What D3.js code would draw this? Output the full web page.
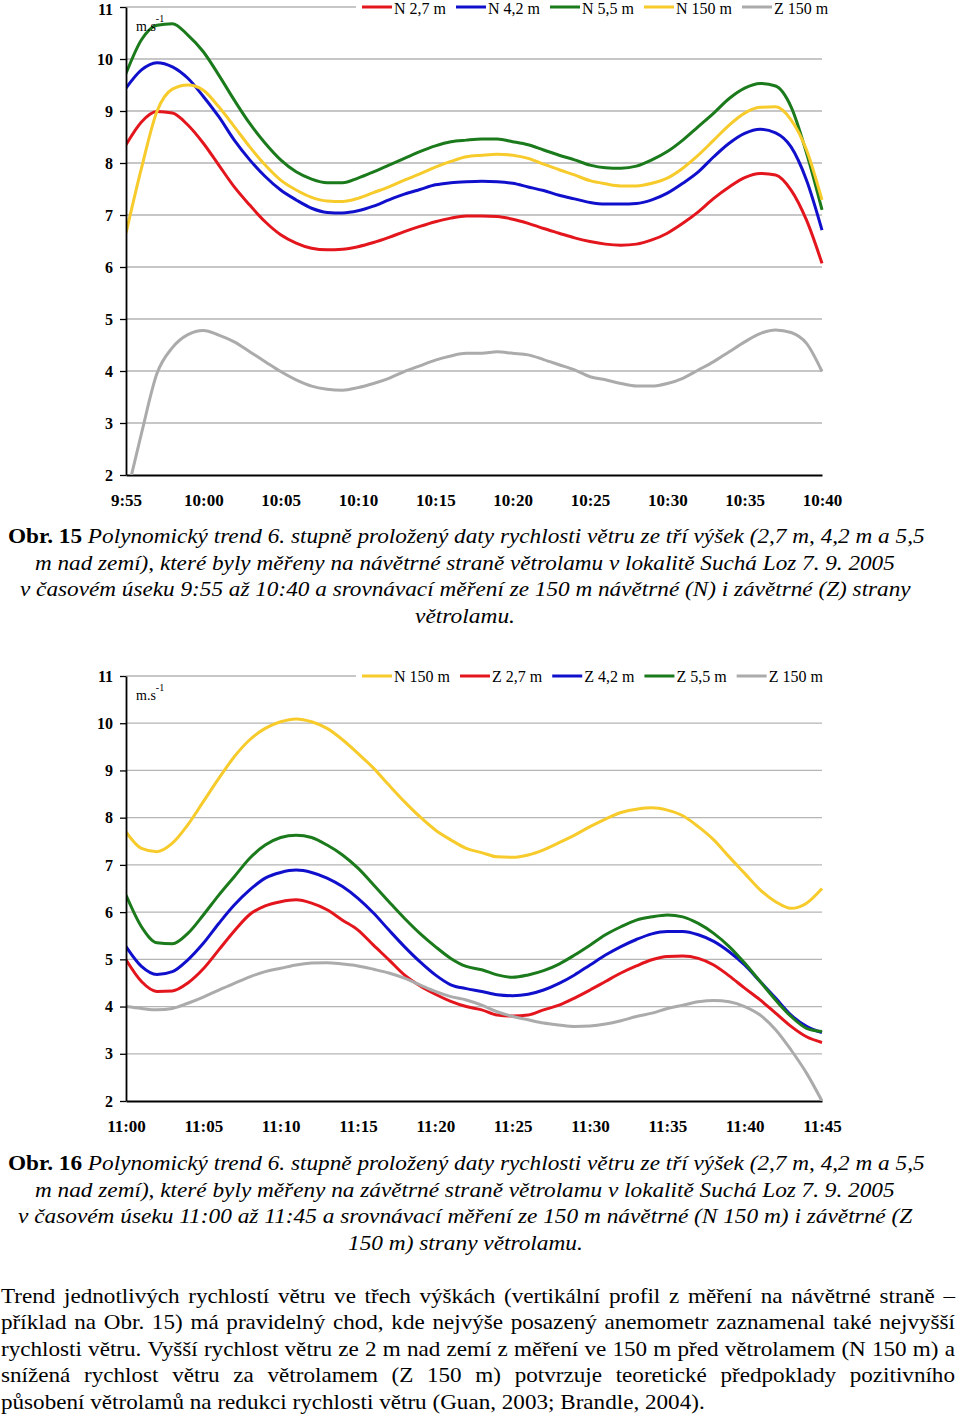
<!DOCTYPE html>
<html><head><meta charset="utf-8">
<script src="https://cdn.jsdelivr.net/npm/d3@7"></script>
<style>
body{margin:0;background:#fff}
svg{display:block}
text{font-family:"Liberation Serif","Times New Roman",serif;fill:#000}
</style>
</head><body>
<svg id="c" width="960" height="1418"></svg>
<script>
// ---------- DATA ----------
const minutes = d3.range(0, 46);               // minutes from start, 1-min steps
const yTicks = [2,3,4,5,6,7,8,9,10,11];
const xLabelsTop = ["9:55","10:00","10:05","10:10","10:15","10:20","10:25","10:30","10:35","10:40"];
const xLabelsBottom = ["11:00","11:05","11:10","11:15","11:20","11:25","11:30","11:35","11:40","11:45"];

// Chart 1 (9:55 - 10:40)
const topN27 = [8.35,8.79,8.99,8.96,8.73,8.38,7.96,7.54,7.19,6.87, 6.62,6.46,6.36,6.33,6.34,6.39,6.47,6.57,6.68,6.78, 6.87,6.94,6.98,6.98,6.97,6.92,6.84,6.74,6.65,6.56, 6.49,6.44,6.42,6.44,6.52,6.65,6.84,7.06,7.32,7.54, 7.72,7.80,7.77,7.48,6.90,6.07];
const topN42 = [9.44,9.79,9.93,9.85,9.63,9.28,8.89,8.44,8.06,7.74, 7.48,7.29,7.13,7.05,7.04,7.08,7.17,7.29,7.40,7.49, 7.58,7.62,7.64,7.65,7.64,7.61,7.54,7.47,7.38,7.31, 7.24,7.21,7.21,7.22,7.29,7.42,7.61,7.83,8.12,8.38, 8.57,8.65,8.58,8.31,7.67,6.71];
const topN55 = [9.72,10.37,10.65,10.68,10.46,10.14,9.69,9.21,8.76,8.38, 8.06,7.83,7.69,7.62,7.62,7.71,7.83,7.96,8.09,8.22, 8.33,8.41,8.44,8.46,8.46,8.41,8.35,8.25,8.15,8.06, 7.96,7.91,7.90,7.94,8.06,8.22,8.44,8.70,8.96,9.24, 9.44,9.53,9.48,9.08,8.19,7.10];
const topN150 = [6.65,7.90,8.99,9.42,9.50,9.40,9.08,8.70,8.31,7.96, 7.67,7.48,7.34,7.27,7.26,7.32,7.43,7.54,7.67,7.79, 7.92,8.03,8.12,8.15,8.17,8.15,8.09,7.98,7.87,7.77, 7.66,7.60,7.56,7.56,7.61,7.71,7.90,8.15,8.44,8.73, 8.96,9.07,9.08,8.83,8.25,7.29];
const topZ150 = [1.56,2.80,3.95,4.45,4.70,4.78,4.69,4.56,4.37,4.18, 3.99,3.83,3.71,3.65,3.63,3.68,3.76,3.86,3.99,4.10, 4.21,4.29,4.34,4.34,4.37,4.34,4.31,4.22,4.12,4.02, 3.89,3.83,3.76,3.71,3.71,3.76,3.86,4.02,4.18,4.37, 4.56,4.72,4.79,4.74,4.53,3.99];

// Chart 2 (11:00 - 11:45)
const botN150 = [7.70,7.35,7.28,7.46,7.85,8.34,8.83,9.29,9.65,9.89, 10.03,10.09,10.03,9.89,9.65,9.36,9.05,8.69,8.34,8.02, 7.74,7.53,7.35,7.26,7.17,7.16,7.21,7.32,7.47,7.63, 7.81,7.97,8.11,8.18,8.21,8.16,8.04,7.81,7.53,7.17, 6.82,6.47,6.22,6.08,6.19,6.50];
const botZ27 = [4.99,4.53,4.32,4.33,4.50,4.80,5.20,5.60,5.95,6.13, 6.22,6.26,6.19,6.05,5.83,5.62,5.30,4.99,4.67,4.44, 4.26,4.11,4.00,3.93,3.82,3.80,3.82,3.93,4.03,4.18, 4.35,4.53,4.71,4.86,4.99,5.06,5.07,5.02,4.88,4.65, 4.39,4.14,3.86,3.58,3.36,3.24];
const botZ42 = [5.27,4.85,4.68,4.74,4.99,5.34,5.76,6.15,6.47,6.72, 6.84,6.89,6.84,6.72,6.54,6.29,5.98,5.62,5.27,4.95, 4.67,4.46,4.38,4.32,4.25,4.23,4.26,4.35,4.49,4.67, 4.88,5.09,5.27,5.42,5.54,5.59,5.59,5.52,5.38,5.16, 4.88,4.53,4.18,3.82,3.58,3.45];
const botZ55 = [6.36,5.69,5.35,5.33,5.55,5.94,6.36,6.75,7.14,7.42, 7.58,7.63,7.58,7.42,7.21,6.93,6.58,6.22,5.87,5.55, 5.27,5.02,4.85,4.78,4.67,4.62,4.67,4.76,4.90,5.09, 5.30,5.52,5.69,5.83,5.90,5.94,5.90,5.76,5.55,5.27, 4.92,4.53,4.14,3.79,3.54,3.47];
const botZ150 = [4.00,3.96,3.93,3.96,4.07,4.20,4.35,4.49,4.63,4.74, 4.81,4.88,4.92,4.93,4.90,4.86,4.79,4.71,4.60,4.46, 4.32,4.21,4.14,4.03,3.89,3.79,3.72,3.65,3.61,3.58, 3.59,3.63,3.70,3.79,3.86,3.96,4.03,4.10,4.13,4.10, 4.00,3.82,3.51,3.08,2.59,2.00];

const seriesTop = [
  {name:"N 2,7 m", values: topN27, color:"#e3161d"},
  {name:"N 4,2 m", values: topN42, color:"#1010cc"},
  {name:"N 5,5 m", values: topN55, color:"#1b7a1b"},
  {name:"N 150 m", values: topN150, color:"#f7cb2b"},
  {name:"Z 150 m", values: topZ150, color:"#ababab"}
];
const seriesBottom = [
  {name:"N 150 m", values: botN150, color:"#f7cb2b"},
  {name:"Z 2,7 m", values: botZ27, color:"#e3161d"},
  {name:"Z 4,2 m", values: botZ42, color:"#1010cc"},
  {name:"Z 5,5 m", values: botZ55, color:"#1b7a1b"},
  {name:"Z 150 m", values: botZ150, color:"#ababab"}
];

const caption1 = [
  {parts:[{t:"Obr. 15",b:1},{t:" Polynomický trend 6. stupně proložený daty rychlosti větru ze tří výšek (2,7 m, 4,2 m a 5,5",i:1}], x0:8, x1:925, y:543},
  {parts:[{t:"m nad zemí), které byly měřeny na návětrné straně větrolamu v lokalitě Suchá Loz 7. 9. 2005",i:1}], x0:35, x1:895, y:569.5},
  {parts:[{t:"v časovém úseku 9:55 až 10:40 a srovnávací měření ze 150 m návětrné (N) i závětrné (Z) strany",i:1}], x0:20, x1:911, y:596},
  {parts:[{t:"větrolamu.",i:1}], x0:415, x1:515, y:622.5}
];
const caption2 = [
  {parts:[{t:"Obr. 16",b:1},{t:" Polynomický trend 6. stupně proložený daty rychlosti větru ze tří výšek (2,7 m, 4,2 m a 5,5",i:1}], x0:8, x1:925, y:1170},
  {parts:[{t:"m nad zemí), které byly měřeny na závětrné straně větrolamu v lokalitě Suchá Loz 7. 9. 2005",i:1}], x0:35, x1:895, y:1196.5},
  {parts:[{t:"v časovém úseku 11:00 až 11:45 a srovnávací měření ze 150 m návětrné (N 150 m) i závětrné (Z",i:1}], x0:18, x1:913, y:1223},
  {parts:[{t:"150 m) strany větrolamu.",i:1}], x0:348, x1:583, y:1249.5}
];
const bodyLines = [
  "Trend jednotlivých rychlostí větru ve třech výškách (vertikální profil z měření na návětrné straně –",
  "příklad na Obr. 15) má pravidelný chod, kde nejvýše posazený anemometr zaznamenal také nejvyšší",
  "rychlosti větru. Vyšší rychlost větru ze 2 m nad zemí z měření ve 150 m před větrolamem (N 150 m) a",
  "snížená rychlost větru za větrolamem (Z 150 m) potvrzuje teoretické předpoklady pozitivního",
  "působení větrolamů na redukci rychlosti větru (Guan, 2003; Brandle, 2004)."
];

// ---------- DRAW ----------
const svg = d3.select("#c");
svg.append("rect").attr("width",960).attr("height",1418).attr("fill","#fff");

const X0 = 126, X1 = 822;
const TICK_FS = 16;

function drawChart(id, top, bottom, labels, series) {
  const x = d3.scaleLinear().domain([0,45]).range([X0, X1]);
  const y = d3.scaleLinear().domain([2,11]).range([bottom, top]);
  const g = svg.append("g");

  // gridlines
  g.append("g").selectAll("line").data(yTicks.filter(d => d > 2)).join("line")
    .attr("x1", X0).attr("x2", X1)
    .attr("y1", d => y(d)).attr("y2", d => y(d))
    .attr("stroke", "#b5b5b5").attr("stroke-width", 1.3);

  // clip
  svg.append("clipPath").attr("id", id).append("rect")
    .attr("x", X0).attr("y", top - 2).attr("width", X1 - X0 + 2).attr("height", bottom - top + 2);

  // x axis
  const xa = g.append("g").attr("transform", `translate(0,${bottom})`)
    .call(d3.axisBottom(x).tickValues(d3.range(0, 46, 5)).tickSize(0).tickSizeOuter(0).tickPadding(19)
      .tickFormat((d, i) => labels[i]));
  xa.select(".domain").attr("stroke", "#000").attr("stroke-width", 1.8);
  xa.selectAll("text").attr("font-weight", "bold").attr("font-size", 17).attr("fill", "#000");

  // lines
  const line = d3.line().x((d, i) => x(minutes[i])).y(d => y(d)).curve(d3.curveMonotoneX);
  g.append("g").attr("clip-path", `url(#${id})`).selectAll("path").data(series).join("path")
    .attr("d", d => line(d.values)).attr("fill", "none")
    .attr("stroke", d => d.color).attr("stroke-width", 3).attr("stroke-linejoin", "round");

  // y axis
  const ya = g.append("g").attr("transform", `translate(${X0},0)`)
    .call(d3.axisLeft(y).tickValues(yTicks).tickSize(6).tickSizeOuter(0).tickPadding(7).tickFormat(d3.format("d")));
  ya.select(".domain").attr("stroke", "#000").attr("stroke-width", 1.8);
  ya.selectAll(".tick line").attr("stroke", "#000").attr("stroke-width", 1.3);
  ya.selectAll("text").attr("font-weight", "bold").attr("font-size", TICK_FS).attr("fill", "#000");
  // keep the top label inside the page
  ya.selectAll("text").filter(d => y(d) < 10).attr("dy", null).attr("y", 0)
    .attr("transform", d => `translate(0,${14.4 - y(d)})`);

  // unit label
  const u = g.append("text").attr("x", X0 + 10).attr("y", top + 24).attr("font-size", 14);
  u.append("tspan").text("m.s");
  u.append("tspan").attr("dy", -9).attr("font-size", 10).text("-1");

  // legend
  const lg = g.append("g");
  lg.append("rect").attr("x", 356).attr("y", top - 9).attr("width", 500).attr("height", 18).attr("fill", "#fff");
  let lx = 362;
  const ty = Math.max(top + 5.6, 14.4);
  series.forEach(s => {
    lg.append("line").attr("x1", lx).attr("x2", lx + 30).attr("y1", top).attr("y2", top)
      .attr("stroke", s.color).attr("stroke-width", 3);
    const t = lg.append("text").attr("x", lx + 32).attr("y", ty)
      .attr("font-size", 16).text(s.name);
    const w = t.node().getComputedTextLength();
    lx += 32 + w + 10;
  });
}

drawChart("clipTop", 7, 475, xLabelsTop, seriesTop);
drawChart("clipBot", 676, 1101, xLabelsBottom, seriesBottom);

// ---------- TEXT ----------
const FS = 22;
function fitLine(item) {
  const t = svg.append("text").attr("font-size", FS);
  item.parts.forEach(p => {
    t.append("tspan").text(p.t)
      .attr("font-weight", p.b ? "bold" : "normal")
      .attr("font-style", p.i ? "italic" : "normal");
  });
  const w = t.node().getComputedTextLength();
  const s = (item.x1 - item.x0) / w;
  t.attr("transform", `translate(${item.x0},${item.y}) scale(${s},1)`);
}
caption1.forEach(fitLine);
caption2.forEach(fitLine);

// body text: justified
const bodyX0 = 1, bodyX1 = 955, lastX1 = 705;
const bodyY = [1302.5, 1329, 1355.5, 1382, 1408.5];
const tmp = svg.append("text").attr("font-size", FS).text(bodyLines[4]);
const sb = (lastX1 - bodyX0) / tmp.node().getComputedTextLength();
tmp.remove();
bodyLines.forEach((ln, li) => {
  const g = svg.append("g").attr("transform", `translate(${bodyX0},${bodyY[li]}) scale(${sb},1)`);
  if (li === bodyLines.length - 1) {
    g.append("text").attr("font-size", FS).text(ln);
    return;
  }
  const words = ln.split(" ");
  const nodes = words.map(wd => g.append("text").attr("font-size", FS).text(wd));
  const widths = nodes.map(n => n.node().getComputedTextLength());
  const W = (bodyX1 - bodyX0) / sb;
  const gap = (W - d3.sum(widths)) / (words.length - 1);
  let cx = 0;
  nodes.forEach((n, i) => { n.attr("x", cx); cx += widths[i] + gap; });
});
</script>
</body></html>
